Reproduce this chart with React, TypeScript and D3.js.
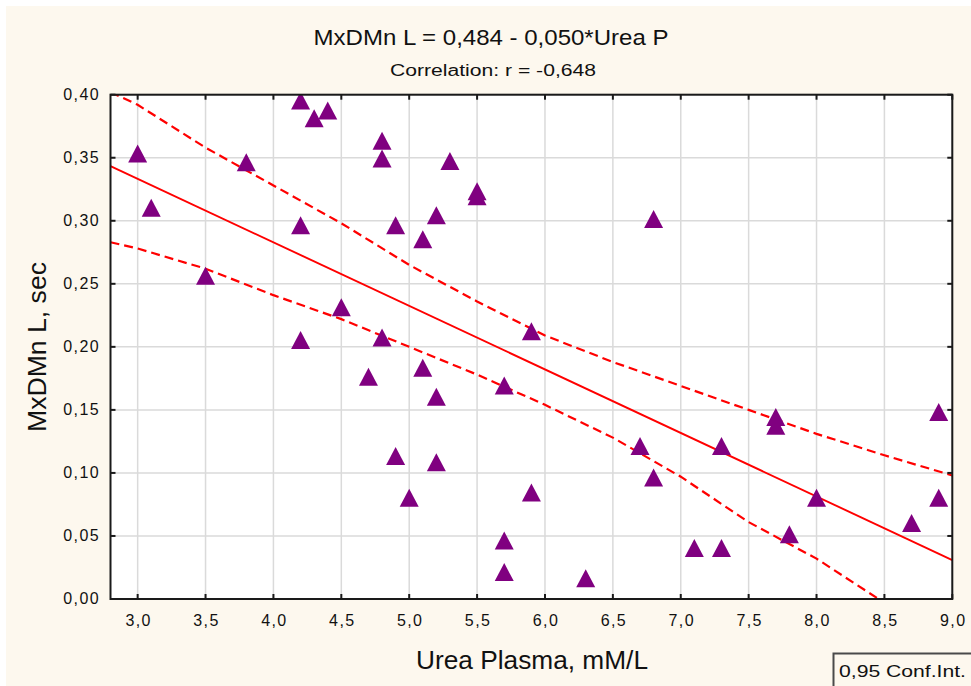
import React from 'react';
import * as d3 from 'd3';

// ---- Data ----
const ureaPlasma = [
  3.0, 3.1, 3.5, 3.8, 4.2, 4.3, 4.4, 4.2, 4.2, 4.5, 4.7,
  4.8, 4.8, 4.8, 4.9, 4.9, 5.0, 5.1, 5.1, 5.2, 5.2, 5.2,
  5.3, 5.5, 5.5, 5.7, 5.7, 5.7, 5.9, 5.9, 6.3, 6.7, 6.8,
  6.8, 7.1, 7.3, 7.3, 7.7, 7.7, 7.8, 8.0, 8.7, 8.9, 8.9,
];
const mxdmnL = [
  0.351, 0.308, 0.254, 0.344, 0.393, 0.379, 0.385, 0.294, 0.203, 0.229, 0.174,
  0.361, 0.347, 0.205, 0.294, 0.111, 0.078, 0.283, 0.181, 0.302, 0.158, 0.106,
  0.345, 0.321, 0.317, 0.167, 0.044, 0.019, 0.210, 0.082, 0.014, 0.119, 0.299,
  0.094, 0.038, 0.038, 0.119, 0.142, 0.135, 0.049, 0.078, 0.058, 0.146, 0.078,
];

const xTicks = [3.0, 3.5, 4.0, 4.5, 5.0, 5.5, 6.0, 6.5, 7.0, 7.5, 8.0, 8.5, 9.0];
const yTicks = [0.0, 0.05, 0.1, 0.15, 0.2, 0.25, 0.3, 0.35, 0.4];

// regression fit (as drawn)
const fitX = [2.8, 9.0];
const fitIntercept = 0.4845;
const fitSlope = -0.0504;

// 0.95 confidence band
const bandX = [2.8, 3.0, 3.5, 4.0, 4.5, 5.0, 5.5, 6.0, 6.5, 7.0, 7.5, 8.0, 8.5, 9.0];
const bandUpper = [0.402, 0.392, 0.358, 0.328, 0.298, 0.265, 0.236, 0.209, 0.188, 0.169, 0.150, 0.131, 0.114, 0.098];
const bandLower = [0.283, 0.278, 0.262, 0.241, 0.222, 0.200, 0.178, 0.154, 0.128, 0.097, 0.061, 0.032, -0.003, -0.036];

const titleText = 'MxDMn L = 0,484 - 0,050*Urea P';
const subtitleText = 'Correlation: r = -0,648';
const xLabel = 'Urea Plasma, mM/L';
const yLabel = 'MxDMn L, sec';
const legendText = '0,95 Conf.Int.';

// ---- Layout ----
const W = 971;
const H = 686;
const PL = 110.5, PR = 952.3, PT = 94.7, PB = 599;
const CREAM = '#fdf8ee';
const FONT = '"Liberation Sans", Arial, sans-serif';

export default function App() {
  const x = d3.scaleLinear().domain([2.8, 9.0]).range([PL, PR]);
  const y = d3.scaleLinear().domain([0, 0.4]).range([PB, PT]);
  const fmtX = (v: number) => d3.format('.1f')(v).replace('.', ',');
  const fmtY = (v: number) => d3.format('.2f')(v).replace('.', ',');

  const lineGen = d3.line<[number, number]>().x(d => x(d[0])).y(d => y(d[1]));
  const fitPath = lineGen(fitX.map(v => [v, fitIntercept + fitSlope * v] as [number, number])) || '';
  const upperPath = lineGen(bandX.map((v, i) => [v, bandUpper[i]] as [number, number])) || '';
  const lowerPath = lineGen(bandX.map((v, i) => [v, bandLower[i]] as [number, number])) || '';

  const tw = 19, th = 18;
  const tri = `M0,${-(2 * th) / 3}L${tw / 2},${th / 3}L${-tw / 2},${th / 3}Z`;
  const tick = 5;

  return (
    <svg width={W} height={H} style={{ position: 'absolute', left: 0, top: 0 }} xmlns="http://www.w3.org/2000/svg">
      <defs>
        <clipPath id="plotClip">
          <rect x={PL} y={PT} width={PR - PL} height={PB - PT} />
        </clipPath>
      </defs>
      <rect x={0} y={0} width={W} height={H} fill="#ffffff" />
      <rect x={6} y={6} width={W - 6} height={H - 6} fill={CREAM} />
      <rect x={PL} y={PT} width={PR - PL} height={PB - PT} fill="#ffffff" />

      {/* grid */}
      <g stroke="#dadada" strokeWidth={1.5}>
        {xTicks.map(t => (
          <line key={'gx' + t} x1={x(t)} x2={x(t)} y1={PT} y2={PB} />
        ))}
        {yTicks.map(t => (
          <line key={'gy' + t} x1={PL} x2={PR} y1={y(t)} y2={y(t)} />
        ))}
      </g>

      {/* regression and confidence band */}
      <g clipPath="url(#plotClip)" fill="none" stroke="#ff0000">
        <path d={fitPath} strokeWidth={1.9} />
        <path d={upperPath} strokeWidth={2.2} strokeDasharray="9,5" />
        <path d={lowerPath} strokeWidth={2.2} strokeDasharray="9,5" />
      </g>

      {/* points */}
      <g clipPath="url(#plotClip)" fill="#800080">
        {ureaPlasma.map((v, i) => (
          <path key={'p' + i} d={tri} transform={`translate(${x(v)},${y(mxdmnL[i])})`} />
        ))}
      </g>

      {/* frame and ticks */}
      <rect x={PL} y={PT} width={PR - PL} height={PB - PT} fill="none" stroke="#1a1a1a" strokeWidth={2} />
      <g stroke="#1a1a1a" strokeWidth={2}>
        {xTicks.map(t => (
          <g key={'tx' + t}>
            <line x1={x(t)} x2={x(t)} y1={PB} y2={PB - tick} />
            <line x1={x(t)} x2={x(t)} y1={PT} y2={PT + tick} />
          </g>
        ))}
        {yTicks.map(t => (
          <g key={'ty' + t}>
            <line x1={PL} x2={PL + tick} y1={y(t)} y2={y(t)} />
            <line x1={PR} x2={PR - tick} y1={y(t)} y2={y(t)} />
          </g>
        ))}
      </g>

      {/* tick labels */}
      <g fontFamily={FONT} fontSize={16} fill="#111" style={{ letterSpacing: '1.4px' }}>
        {xTicks.map(t => (
          <text key={'lx' + t} x={x(t) + 1} y={626} textAnchor="middle">{fmtX(t)}</text>
        ))}
        {yTicks.map(t => (
          <text key={'ly' + t} x={100} y={y(t) + 5} textAnchor="end">{fmtY(t)}</text>
        ))}
      </g>

      {/* titles */}
      <text x={491} y={45} textAnchor="middle" fontFamily={FONT} fontSize={22} fill="#111" textLength={355} lengthAdjust="spacingAndGlyphs">{titleText}</text>
      <text x={493} y={76} textAnchor="middle" fontFamily={FONT} fontSize={16} fill="#111" textLength={206} lengthAdjust="spacingAndGlyphs">{subtitleText}</text>

      {/* axis labels */}
      <text x={532} y={669} textAnchor="middle" fontFamily={FONT} fontSize={26} fill="#111" textLength={232} lengthAdjust="spacingAndGlyphs">{xLabel}</text>
      <text transform={`translate(46,347) rotate(-90)`} textAnchor="middle" fontFamily={FONT} fontSize={26} fill="#111" textLength={170} lengthAdjust="spacingAndGlyphs">{yLabel}</text>

      {/* legend box */}
      <rect x={833.5} y={653.5} width={160} height={50} fill={CREAM} stroke="#4a4a4a" strokeWidth={2} />
      <text x={839} y={677} fontFamily={FONT} fontSize={16} fill="#111" textLength={127} lengthAdjust="spacingAndGlyphs">{legendText}</text>
    </svg>
  );
}
